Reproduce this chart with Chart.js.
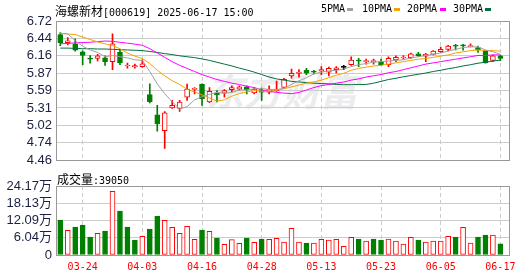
<!DOCTYPE html>
<html>
<head>
<meta charset="utf-8">
<script src="https://cdn.jsdelivr.net/npm/chart.js@4/dist/chart.umd.min.js"></script>
<style>
  body { margin: 0; background: #fff; }
  #wrap { position: relative; width: 530px; height: 276px; overflow: hidden; }
  #priceChart { position: absolute; left: 0; top: 0; }
  #volChart { position: absolute; left: 0; top: 170px; }
  .txt { position: absolute; white-space: nowrap; color: #000; line-height: 12px; }
  .cjk { font: 12px 'Noto Sans CJK SC', sans-serif; }
  .mono { font: 10px 'DejaVu Sans Mono', monospace; }
  .sw { position: absolute; width: 6px; height: 3px; }
</style>
</head>
<body>
<div id="wrap">
  <canvas id="priceChart" width="530" height="172"></canvas>
  <canvas id="volChart" width="530" height="106"></canvas>
  <div class="txt" style="left:55px;top:2px;"><span class="cjk">海螺新材</span><span class="mono">[000619] 2025-06-17 15:00</span></div>
  <div class="txt mono" style="left:321px;top:3px;">5PMA</div><div class="sw" style="left:347px;top:8px;background:#a0a0a0"></div>
  <div class="txt mono" style="left:362px;top:3px;">10PMA</div><div class="sw" style="left:394px;top:8px;background:#f5a300"></div>
  <div class="txt mono" style="left:407px;top:3px;">20PMA</div><div class="sw" style="left:440px;top:8px;background:#ff00ff"></div>
  <div class="txt mono" style="left:453px;top:3px;">30PMA</div><div class="sw" style="left:485px;top:8px;background:#00703c"></div>
  <div class="txt" style="left:57px;top:170px;"><span class="cjk">成交量</span><span class="mono">:39050</span></div>
</div>
<script>
// ===== data =====
const dates = ['03-19','03-20','03-21','03-24','03-25','03-26','03-27','03-28','03-31','04-01',
  '04-02','04-03','04-07','04-08','04-09','04-10','04-11','04-14','04-15','04-16',
  '04-17','04-18','04-21','04-22','04-23','04-24','04-25','04-28','04-29','04-30',
  '05-06','05-07','05-08','05-09','05-12','05-13','05-14','05-15','05-16','05-19',
  '05-20','05-21','05-22','05-23','05-26','05-27','05-28','05-29','05-30','06-03',
  '06-04','06-05','06-06','06-09','06-10','06-11','06-12','06-13','06-16','06-17'];

const openP = [6.50, 6.37, 6.35, 6.22, 6.11, 6.114, 6.124, 6.06, 6.21, 5.99,
  5.977, 5.977, 5.525, 5.195, 4.94, 5.31, 5.30, 5.484, 5.61, 5.694,
  5.405, 5.55, 5.547, 5.605, 5.615, 5.652, 5.552, 5.589, 5.563, 5.589,
  5.641, 5.83, 5.87, 5.92, 5.905, 5.904, 5.89, 5.93, 5.967, 6.01,
  6.08, 6.06, 6.06, 6.06, 6.009, 6.087, 6.12, 6.124, 6.187, 6.15,
  6.177, 6.224, 6.26, 6.32, 6.32, 6.305, 6.287, 6.229, 6.082, 6.156];
const highP = [6.53, 6.45, 6.43, 6.235, 6.16, 6.18, 6.156, 6.51, 6.26, 6.035,
  6.02, 6.09, 5.70, 5.35, 5.25, 5.43, 5.43, 5.694, 5.64, 5.70,
  5.64, 5.59, 5.605, 5.667, 5.667, 5.667, 5.64, 5.63, 5.667, 5.746,
  5.788, 5.94, 5.93, 5.95, 5.92, 5.98, 5.97, 5.98, 6.00, 6.14,
  6.114, 6.10, 6.10, 6.10, 6.14, 6.156, 6.16, 6.198, 6.21, 6.197,
  6.24, 6.297, 6.324, 6.34, 6.34, 6.35, 6.313, 6.24, 6.166, 6.166];
const lowP = [6.32, 6.33, 6.23, 6.01, 6.035, 6.07, 6.00, 5.93, 6.01, 5.956,
  5.956, 5.967, 5.39, 4.93, 4.65, 5.30, 5.25, 5.43, 5.536, 5.35,
  5.395, 5.405, 5.484, 5.563, 5.60, 5.536, 5.536, 5.43, 5.536, 5.578,
  5.63, 5.79, 5.81, 5.85, 5.86, 5.85, 5.83, 5.878, 5.93, 6.00,
  5.98, 6.02, 6.02, 5.998, 5.98, 6.06, 6.10, 6.113, 6.145, 6.06,
  6.17, 6.21, 6.24, 6.25, 6.245, 6.30, 6.21, 6.035, 6.061, 6.077];
const closeP = [6.37, 6.40, 6.245, 6.16, 6.10, 6.156, 6.06, 6.35, 6.045, 6.00,
  5.995, 6.025, 5.41, 5.05, 5.23, 5.35, 5.405, 5.615, 5.62, 5.457,
  5.578, 5.52, 5.589, 5.641, 5.652, 5.605, 5.615, 5.563, 5.605, 5.615,
  5.772, 5.87, 5.89, 5.875, 5.89, 5.93, 5.95, 5.96, 5.967, 6.087,
  6.07, 6.075, 6.07, 6.009, 6.114, 6.13, 6.135, 6.187, 6.156, 6.18,
  6.23, 6.26, 6.313, 6.31, 6.315, 6.32, 6.255, 6.04, 6.156, 6.113];

const ma5 = [6.52, 6.51, 6.40, 6.31, 6.25, 6.21, 6.14, 6.16, 6.14, 6.12,
  6.09, 6.08, 5.90, 5.70, 5.54, 5.41, 5.29, 5.33, 5.44, 5.49,
  5.53, 5.56, 5.55, 5.56, 5.60, 5.60, 5.62, 5.62, 5.61, 5.60,
  5.63, 5.69, 5.75, 5.80, 5.86, 5.89, 5.91, 5.92, 5.94, 5.98,
  6.01, 6.03, 6.05, 6.06, 6.07, 6.08, 6.09, 6.12, 6.14, 6.16,
  6.18, 6.20, 6.23, 6.26, 6.29, 6.30, 6.30, 6.25, 6.22, 6.18];
const ma10 = [6.52, 6.51, 6.50, 6.46, 6.42, 6.38, 6.35, 6.32, 6.27, 6.20,
  6.15, 6.11, 6.03, 5.92, 5.83, 5.75, 5.69, 5.61, 5.57, 5.52,
  5.47, 5.42, 5.44, 5.50, 5.54, 5.57, 5.59, 5.58, 5.58, 5.60,
  5.62, 5.65, 5.68, 5.71, 5.73, 5.76, 5.80, 5.84, 5.87, 5.92,
  5.95, 5.97, 5.99, 6.00, 6.02, 6.04, 6.06, 6.08, 6.10, 6.11,
  6.13, 6.15, 6.17, 6.20, 6.22, 6.24, 6.25, 6.24, 6.24, 6.23];
const ma20 = [6.35, 6.355, 6.365, 6.37, 6.375, 6.385, 6.395, 6.39, 6.375, 6.36,
  6.345, 6.325, 6.27, 6.20, 6.13, 6.06, 6.00, 5.95, 5.90, 5.85,
  5.81, 5.77, 5.74, 5.71, 5.69, 5.66, 5.64, 5.60, 5.58, 5.56,
  5.55, 5.54, 5.56, 5.60, 5.64, 5.67, 5.69, 5.71, 5.73, 5.76,
  5.78, 5.81, 5.83, 5.85, 5.88, 5.90, 5.93, 5.96, 5.99, 6.02,
  6.04, 6.06, 6.08, 6.10, 6.12, 6.14, 6.16, 6.16, 6.17, 6.17];
const ma30 = [6.28, 6.28, 6.275, 6.27, 6.27, 6.265, 6.265, 6.26, 6.255, 6.25,
  6.245, 6.24, 6.225, 6.21, 6.19, 6.175, 6.155, 6.14, 6.125, 6.105,
  6.08, 6.05, 6.02, 5.99, 5.955, 5.925, 5.89, 5.85, 5.81, 5.78,
  5.76, 5.74, 5.73, 5.72, 5.71, 5.705, 5.70, 5.69, 5.685, 5.685,
  5.69, 5.69, 5.71, 5.74, 5.77, 5.79, 5.815, 5.835, 5.855, 5.875,
  5.90, 5.92, 5.945, 5.965, 5.99, 6.01, 6.035, 6.05, 6.07, 6.085];

// volume in 万手
const volume = [12.26, 8.64, 9.81, 10.51, 6.31, 7.59, 8.41, 22.30, 15.41, 9.81,
  5.25, 6.54, 9.11, 13.66, 12.14, 9.69, 7.59, 10.04, 5.49, 8.76,
  8.29, 5.95, 3.74, 5.37, 4.09, 5.95, 4.44, 5.60, 5.49, 5.84,
  4.55, 9.34, 4.55, 4.20, 4.20, 5.49, 5.25, 5.49, 3.04, 6.19,
  5.60, 4.90, 5.60, 5.25, 5.60, 4.90, 3.85, 6.19, 5.25, 4.55,
  4.90, 4.90, 6.54, 6.31, 9.69, 4.20, 6.31, 7.01, 7.01, 3.905];

const priceTicks = ['4.46', '4.74', '5.02', '5.31', '5.59', '5.87', '6.16', '6.44', '6.72'];
const volTicks = ['0', '6.04万', '12.09万', '18.13万', '24.17万'];
const xLabels = ['03-24', '04-03', '04-16', '04-28', '05-13', '05-23', '06-05', '06-17'];

// ===== styles =====
const RED = '#ff0000';
const GREEN = '#008000';
const GRID = '#cccccc';
const FRAME = '#999999';
const AXIS_TEXT = '#1a2040';
const X_MIN = -0.576, X_MAX = 60.157;

Chart.defaults.font.family = "'Liberation Sans', 'Noto Sans CJK SC', sans-serif";
Chart.defaults.animation = false;

const candleColor = i => closeP[i] > openP[i] ? RED : (closeP[i] < openP[i] ? GREEN : '#000000');
const volColor = i => {
  if (i === 0) return candleColor(0);
  return closeP[i] >= closeP[i - 1] ? RED : GREEN;
};
const pts = arr => arr.map((v, i) => ({ x: i, y: v }));

const framePlugin = {
  id: 'frame',
  afterDraw(chart) {
    const { ctx, chartArea: a } = chart;
    ctx.save();
    ctx.strokeStyle = FRAME;
    ctx.lineWidth = 1;
    ctx.strokeRect(Math.round(a.left) + 0.5, Math.round(a.top) + 0.5,
      Math.round(a.right - a.left), Math.round(a.bottom - a.top));
    ctx.restore();
  }
};

const watermark = {
  id: 'watermark',
  beforeDatasetsDraw(chart) {
    const { ctx } = chart;
    ctx.save();
    ctx.font = "bold italic 38px 'Noto Sans CJK SC'";
    ctx.fillStyle = 'rgba(200,200,210,0.35)';
    ctx.textAlign = 'center';
    ctx.textBaseline = 'middle';
    ctx.fillText('东方财富', 282, 92);
    ctx.restore();
  }
};

function xAxis(showLabels, fitHeight) {
  return {
    type: 'linear',
    min: X_MIN, max: X_MAX,
    offset: false,
    afterBuildTicks: s => { s.ticks = xLabels.map(d => ({ value: dates.indexOf(d) })); },
    afterFit: s => { s.height = fitHeight; },
    grid: { color: GRID, drawTicks: false, offset: false },
    border: { display: false, dash: [4, 3] },
    ticks: {
      display: showLabels,
      autoSkip: false, maxRotation: 0, padding: 6,
      color: RED,
      font: { family: "'DejaVu Sans Mono', monospace", size: 10 },
      callback: v => dates[v]
    }
  };
}

function yAxis(min, max, labels) {
  return {
    min: min, max: max,
    afterBuildTicks: s => {
      const step = (s.max - s.min) / (labels.length - 1);
      s.ticks = labels.map((t, k) => ({ value: s.min + k * step }));
    },
    afterFit: s => { s.width = 56; },
    grid: { color: GRID, drawTicks: false },
    border: { display: false },
    ticks: {
      autoSkip: false, padding: 4, color: AXIS_TEXT, font: { size: 13 },
      callback: (v, i) => labels[i]
    }
  };
}

// ── price chart ───────────────────────────────
new Chart(document.getElementById('priceChart'), {
  type: 'bar',
  data: {
    datasets: [
      { type: 'line', data: pts(ma5), borderColor: '#a0a0a0', order: 0 },
      { type: 'line', data: pts(ma10), borderColor: '#f5a300', order: 0 },
      { type: 'line', data: pts(ma20), borderColor: '#ff00ff', order: 0 },
      { type: 'line', data: pts(ma30), borderColor: '#00703c', order: 0 },
      {
        data: openP.map((o, i) => ({ x: i, y: [openP[i], closeP[i]] })),
        backgroundColor: c => candleColor(c.dataIndex) === RED ? '#ffffff' : candleColor(c.dataIndex),
        borderColor: c => candleColor(c.dataIndex),
        borderWidth: 1, borderSkipped: false, minBarLength: 1,
        barThickness: 5, grouped: false, order: 1
      },
      {
        data: highP.map((h, i) => ({ x: i, y: [lowP[i], highP[i]] })),
        backgroundColor: c => candleColor(c.dataIndex),
        borderWidth: 0, barThickness: 1, grouped: false, order: 2
      }
    ]
  },
  options: {
    responsive: false,
    devicePixelRatio: 1,
    layout: { padding: { top: 21, right: 21, bottom: 7, left: 0 } },
    elements: { line: { borderWidth: 1, tension: 0 }, point: { radius: 0 } },
    plugins: { legend: { display: false }, tooltip: { enabled: false } },
    scales: {
      x: xAxis(false, 0),
      y: yAxis(4.46, 6.72, priceTicks)
    }
  },
  plugins: [watermark, framePlugin]
});

// ── volume chart ──────────────────────────────
new Chart(document.getElementById('volChart'), {
  type: 'bar',
  data: {
    datasets: [{
      data: volume.map((v, i) => ({ x: i, y: v })),
      backgroundColor: c => volColor(c.dataIndex) === RED ? '#ffffff' : GREEN,
      borderColor: c => volColor(c.dataIndex),
      borderWidth: 1, borderSkipped: false,
      barThickness: 5, grouped: false
    }]
  },
  options: {
    responsive: false,
    devicePixelRatio: 1,
    layout: { padding: { top: 16, right: 21, bottom: 0, left: 0 } },
    plugins: { legend: { display: false }, tooltip: { enabled: false } },
    scales: {
      x: xAxis(true, 21),
      y: yAxis(0, 24.17, volTicks)
    }
  },
  plugins: [framePlugin]
});
</script>
</body>
</html>
